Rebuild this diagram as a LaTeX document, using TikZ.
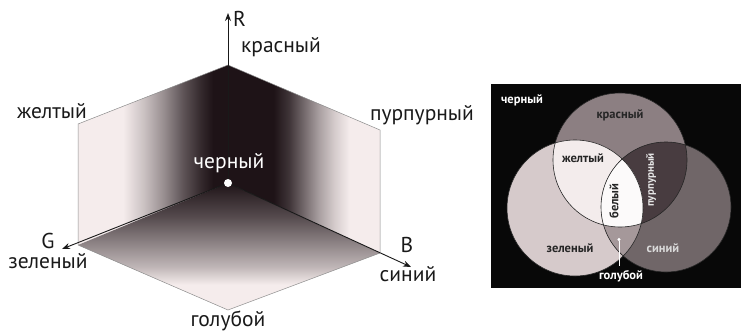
\documentclass[tikz,border=0pt]{standalone}
\usepackage{fontspec}
\setmainfont{PT Sans}
\usetikzlibrary{arrows.meta}
\definecolor{cubedark}{RGB}{30,19,23}
\definecolor{cubelight}{RGB}{245,236,236}
\definecolor{vred}{RGB}{140,127,130}
\definecolor{vgreen}{RGB}{214,202,203}
\definecolor{vblue}{RGB}{112,102,104}
\definecolor{vyellow}{RGB}{243,236,236}
\definecolor{vmagenta}{RGB}{72,60,64}
\definecolor{vcyan}{RGB}{165,152,154}
\definecolor{vwhite}{RGB}{252,250,250}
\colorlet{cube15}{cubedark!15!cubelight}
\colorlet{cube20}{cubedark!20!cubelight}
\colorlet{cube25}{cubedark!25!cubelight}
\colorlet{cube35}{cubedark!35!cubelight}
\colorlet{cube45}{cubedark!45!cubelight}
\colorlet{cube50}{cubedark!50!cubelight}
\colorlet{cube60}{cubedark!60!cubelight}
\colorlet{cube70}{cubedark!70!cubelight}
\colorlet{cube75}{cubedark!75!cubelight}
\colorlet{cube85}{cubedark!85!cubelight}
\colorlet{cube90}{cubedark!90!cubelight}
\pgfdeclarehorizontalshading{faceleft}{100bp}{color(0bp)=(cubelight); color(40bp)=(cubelight); color(47bp)=(cube20); color(54bp)=(cube45); color(60bp)=(cube70); color(66bp)=(cube90); color(70bp)=(cubedark); color(100bp)=(cubedark)}
\pgfdeclarehorizontalshading{faceright}{100bp}{color(0bp)=(cubedark); color(40bp)=(cubedark); color(45bp)=(cube85); color(50bp)=(cube60); color(55bp)=(cube35); color(60bp)=(cube15); color(65bp)=(cubelight); color(100bp)=(cubelight)}
\pgfdeclareverticalshading{facebottom}{100bp}{color(0bp)=(cubelight); color(35bp)=(cubelight); color(42bp)=(cube25); color(52bp)=(cube50); color(62bp)=(cube75); color(70bp)=(cube90); color(75bp)=(cubedark); color(100bp)=(cubedark)}
\begin{document}
\begin{tikzpicture}[x=1pt,y=-1pt,
  lab/.style={font=\fontsize{21.5}{24}\selectfont, text=black!90, inner sep=0pt},
  vlab/.style={font=\fontsize{12.5}{14}\selectfont\bfseries, inner sep=0pt},
  edge/.style={draw=black!45, line width=0.5pt},
  axis/.style={-{Stealth[length=8pt,width=6pt]}, draw=black!90, line width=0.9pt},
  ring/.style={draw=black!85, line width=0.6pt}]
\useasboundingbox (0,0) rectangle (741,335);
% cube corners
\coordinate (O) at (228,183);
\coordinate (T) at (228,65);
\coordinate (UL) at (78,124);
\coordinate (UR) at (380,130);
\coordinate (LL) at (78,245);
\coordinate (LR) at (380,253);
\coordinate (Bt) at (228,310);
\coordinate (Rend) at (228,13);
\coordinate (Gend) at (62,249);
\coordinate (Bend) at (411,267);
% cube faces
\shade[shading=faceleft] (O) -- (T) -- (UL) -- (LL) -- cycle;
\shade[shading=faceright] (O) -- (T) -- (UR) -- (LR) -- cycle;
\shade[shading=facebottom] (O) -- (LL) -- (Bt) -- (LR) -- cycle;
\draw[edge] (T) -- (UL) -- (LL) -- (Bt) -- (LR) -- (UR) -- cycle;
\draw[axis] (O) -- (Rend);
\draw[axis] (O) -- (Gend);
\draw[axis] (O) -- (Bend);
\fill[white] (O) circle (4);
% cube labels
\node[lab, anchor=west] (rname) at (233,19) {R};
\node[lab] (red) at (281,47) {красный};
\node[lab] (yellow) at (52,111) {желтый};
\node[lab] (magenta) at (422,115) {пурпурный};
\node[lab, text=white] (black) at (229,163) {черный};
\node[lab] (gname) at (48,241) {G};
\node[lab] (green) at (48,261) {зеленый};
\node[lab] (bname) at (407,245) {B};
\node[lab] (blue) at (408,274) {синий};
\node[lab] (cyan) at (228,321) {голубой};
% additive circles
\coordinate (cR) at (620,160);
\coordinate (cG) at (575,208);
\coordinate (cB) at (666,207);
\coordinate (cyanpt) at (619,238);
\coordinate (cyanend) at (619,266);
\fill[black!97] (491,84) rectangle (741,288);
\fill[vred] (cR) circle (67);
\fill[vgreen] (cG) circle (68);
\fill[vblue] (cB) circle (65);
\begin{scope}
  \clip (cR) circle (67);
  \fill[vyellow] (cG) circle (68);
  \fill[vmagenta] (cB) circle (65);
  \clip (cG) circle (68);
  \fill[vwhite] (cB) circle (65);
\end{scope}
\begin{scope}
  \clip (cG) circle (68);
  \clip (cB) circle (65);
  \fill[vcyan] (cB) circle (65);
  \fill[vwhite] (cR) circle (67);
\end{scope}
\draw[ring] (cR) circle (67);
\draw[ring] (cG) circle (68);
\draw[ring] (cB) circle (65);
\draw[white, line width=0.8pt, {Circle[length=3pt]}-] (cyanpt) -- (cyanend);
% circle labels
\node[vlab, text=white] (vblack) at (522,100) {черный};
\node[vlab, text=black!85] (vred) at (620,115) {красный};
\node[vlab, text=black!85] (vyellow) at (583,158) {желтый};
\node[vlab, text=black!85, rotate=90] (vwhite) at (614,201) {белый};
\node[vlab, text=white!90!black, rotate=90, font=\fontsize{11}{13}\selectfont\bfseries] (vmagenta) at (651,180) {пурпурный};
\node[vlab, text=black!85] (vgreen) at (570,248) {зеленый};
\node[vlab, text=white!85!black] (vblue) at (663,248) {синий};
\node[vlab, text=white] (vcyan) at (621,276) {голубой};
\end{tikzpicture}
\end{document}
